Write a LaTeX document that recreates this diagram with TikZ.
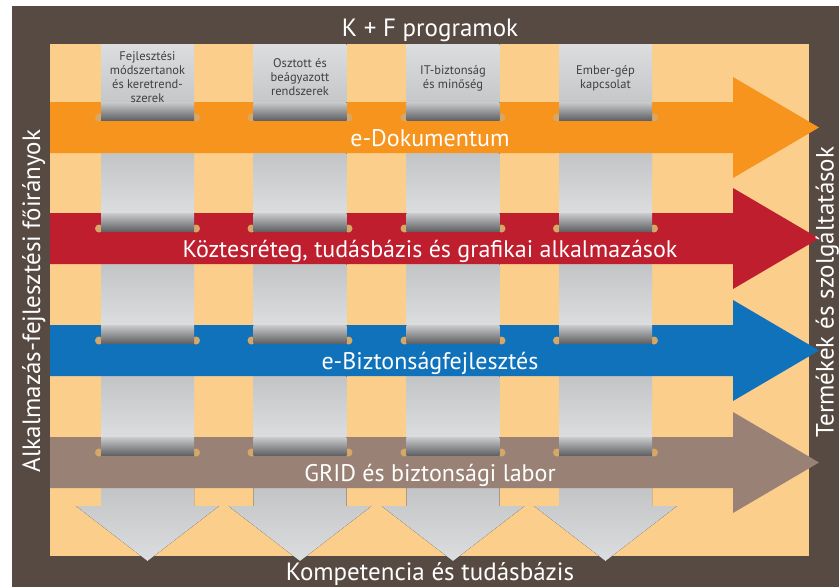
\documentclass[tikz,border=0pt]{standalone}
\usepackage{fontspec}
\setmainfont{PT Sans}
\usetikzlibrary{positioning}

\definecolor{cadre}{HTML}{574A42}
\definecolor{peche}{HTML}{FBCE8C}
\definecolor{orangebande}{HTML}{F7941D}
\definecolor{rougebande}{HTML}{BE1E2D}
\definecolor{bleubande}{HTML}{0F72BA}
\definecolor{brunbande}{HTML}{998275}
\definecolor{grisclair}{HTML}{DCDDDF}
\definecolor{grismoyen}{HTML}{C3C4C6}
\definecolor{grisfonce}{HTML}{626366}
\definecolor{rivet}{HTML}{D6A767}
\definecolor{texteentete}{HTML}{414042}

\begin{document}
\begin{tikzpicture}[x=1pt,y=-1pt]
        \tikzset{
          texte bord/.style={
            font=\fontsize{25}{30}\selectfont,text=white,
            inner sep=0pt,anchor=base,
          },
          texte bande/.style={
            font=\fontsize{24}{28}\selectfont,text=white,
            inner sep=0pt,anchor=base,
          },
          entete/.style={
            align=center,inner sep=0pt,
            font=\fontsize{12.5}{14}\selectfont,text=texteentete,
          },
          colonne/.style={top color=grismoyen,bottom color=grisclair},
          repli/.style={top color=grisclair!92!black,bottom color=grisfonce},
        }
        \useasboundingbox (0,0) rectangle (839,587);
        \fill[cadre] (12,6) rectangle (839,587);
        \fill[peche] (50,44) rectangle (809,556);

        % colonnes sous les bandes
        \foreach \cx in {147.5,300,453,605.5} {
          \fill[top color=grisclair,bottom color=grisclair!90!black] (\cx-46.5,44) rectangle (\cx+46.5,102);
          \fill[colonne] (\cx-46.5,153) rectangle (\cx+46.5,213);
          \fill[colonne] (\cx-46.5,264) rectangle (\cx+46.5,325);
          \fill[colonne] (\cx-46.5,376) rectangle (\cx+46.5,437);
          \fill[colonne] (\cx-46.5,488) -- (\cx+46.5,488) -- (\cx+46.5,506) -- (\cx+71.5,506)
            -- (\cx,561) -- (\cx-71.5,506) -- (\cx-46.5,506) -- cycle;
        }

        % bandes horizontales
        \foreach \t/\coul/\nom/\texte in {
            102/orangebande/dok/e-Dokumentum,
            213/rougebande/koz/{Köztesréteg, tudásbázis és grafikai alkalmazások},
            325/bleubande/biz/e-Biztonságfejlesztés,
            437/brunbande/grid/GRID és biztonsági labor} {
          \fill[\coul] (50,\t) -- (733,\t) -- (733,\t-25) -- (819,\t+25.5)
            -- (733,\t+76) -- (733,\t+51) -- (50,\t+51) -- cycle;
          \foreach \cx in {147.5,300,453,605.5} {
            \fill[rivet] (\cx-48.5,\t+15.5) circle (4);
            \fill[rivet] (\cx+48.5,\t+15.5) circle (4);
            \fill[repli] (\cx-46.5,\t) rectangle (\cx+46.5,\t+18);
          }
          \node[texte bande] (\nom) at (430,\t+44) {\texte};
        }

        % en-tetes des colonnes
        \node[entete] (methodes) at (147.5,77) {Fejlesztési\\módszertanok\\és keretrend-\\szerek};
        \node[entete] (osztott) at (300,77) {Osztott és\\beágyazott\\rendszerek};
        \node[entete] (itbiz) at (453,78) {IT-biztonság\\és minőség};
        \node[entete] (ember) at (605.5,78) {Ember-gép\\kapcsolat};

        % textes du cadre
        \node[texte bord] (titre) at (430,36) {K + F programok};
        \node[texte bord] (base) at (430,580.5) {Kompetencia és tudásbázis};
        \node[texte bord,rotate=90] (gauche) at (40,301) {Alkalmazás-fejlesztési főirányok};
        \node[texte bord,rotate=90] (droite) at (833.5,292) {Termékek és szolgáltatások};
      \end{tikzpicture}
\end{document}
